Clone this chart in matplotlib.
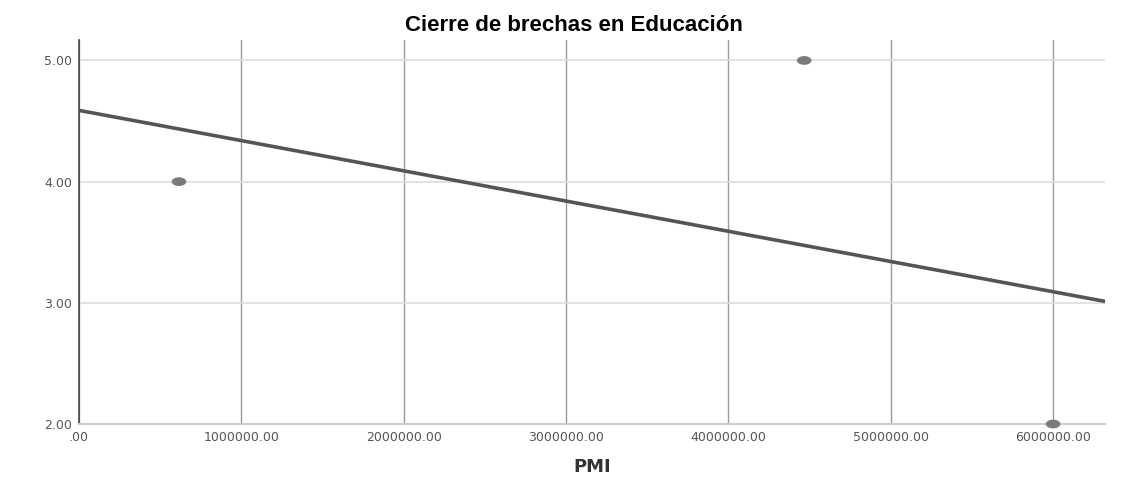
import matplotlib.pyplot as plt
from matplotlib.ticker import FuncFormatter
from matplotlib.path import Path
import numpy as np

# Datos
pmi = [616000, 4467000, 6000000]
brechas = [4.0, 5.0, 2.0]
x_ticks = [0, 1000000, 2000000, 3000000, 4000000, 5000000, 6000000]
y_ticks = [2.0, 3.0, 4.0, 5.0]


def formato_spss(v, pos):
    txt = f"{v:.2f}"
    if txt.startswith("0."):
        txt = txt[1:]
    return txt


# marcador eliptico (los puntos del original son mas anchos que altos)
t = np.linspace(0, 2 * np.pi, 40)
elipse = Path(np.column_stack([1.0 * np.cos(t), 0.6 * np.sin(t)]), closed=True)

fig = plt.figure(figsize=(11.35, 4.82), dpi=100)
fig.patch.set_facecolor('white')
ax = fig.add_axes([0.0696, 0.1203, 0.904, 0.797])

# Linea de ajuste (regresion lineal)
pend, inter = np.polyfit(pmi, brechas, 1)
x_lim = (0, 6320000)
xs = np.array(x_lim)
ax.plot(xs, inter + pend * xs, color='#555555', linewidth=2.6, zorder=3)

# Puntos
ax.scatter(pmi, brechas, s=110, color='#7a7a7a', marker=elipse, zorder=4,
           edgecolors='none', clip_on=False)

ax.set_xlim(*x_lim)
ax.set_ylim(2.0, 5.17)
ax.set_xticks(x_ticks)
ax.set_yticks(y_ticks)
ax.xaxis.set_major_formatter(FuncFormatter(formato_spss))
ax.yaxis.set_major_formatter(FuncFormatter(formato_spss))
ax.tick_params(length=0, labelsize=9, colors='#555555', pad=5)

ax.xaxis.grid(True, color='#9a9a9a', linewidth=1.0)
ax.yaxis.grid(True, color='#dddddd', linewidth=1.2)
ax.set_axisbelow(True)

for spine in ['top', 'right']:
    ax.spines[spine].set_visible(False)
ax.spines['left'].set_color('#444444')
ax.spines['left'].set_linewidth(1.2)
ax.spines['bottom'].set_color('#cccccc')
ax.spines['bottom'].set_linewidth(1.5)

ax.set_xlabel('PMI', fontsize=13, fontweight='bold', color='#333333', labelpad=10)
fig.text(0.506, 0.948, 'Cierre de brechas en Educación', ha='center', va='center',
         fontsize=16, fontweight='bold', family='Liberation Sans')

plt.savefig('out.png', dpi=100)
plt.close()
